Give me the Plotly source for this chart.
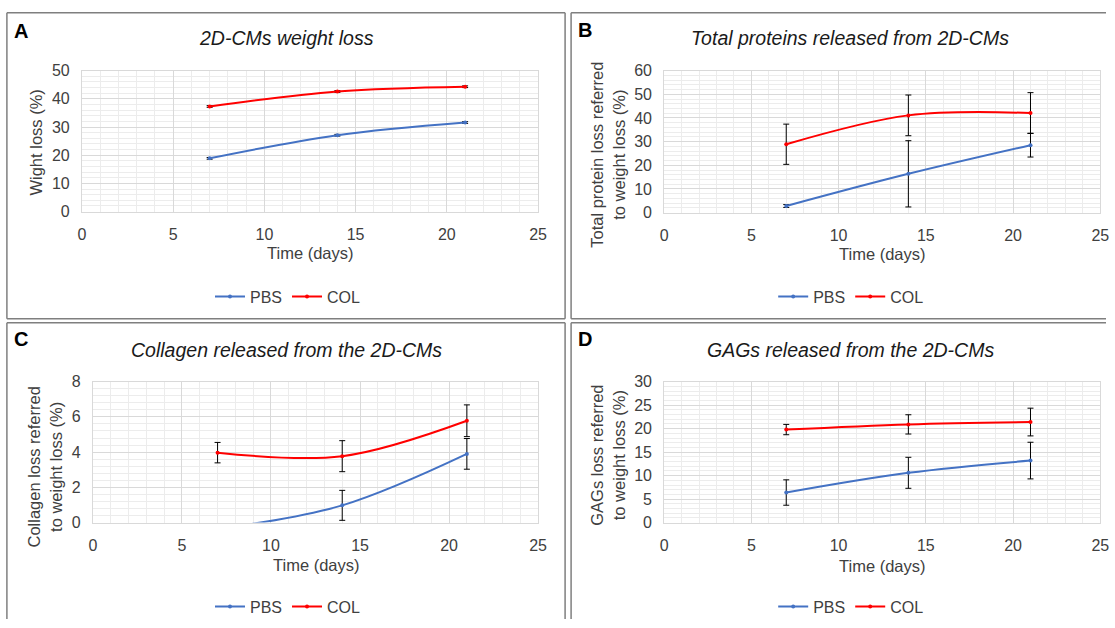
import plotly.graph_objects as go

W, H = 1115, 628

days = [7, 14, 21]

# A - weight loss
pbs_weight = [18.9, 27.1, 31.6]
pbs_weight_err = [0.3, 0.3, 0.3]
col_weight = [37.3, 42.6, 44.3]
col_weight_err = [0.3, 0.3, 0.3]

# B - total proteins
pbs_prot = [2.8, 16.4, 28.5]
pbs_prot_err = [0.6, 14.0, 5.0]
col_prot = [28.9, 41.1, 42.1]
col_prot_err = [8.5, 8.6, 8.6]

# C - collagen (PBS day 7 sits just below the axis and is clipped)
pbs_coll = [-0.36, 0.98, 3.9]
pbs_coll_err = [0.25, 0.85, 0.87]
col_coll = [3.97, 3.77, 5.78]
col_coll_err = [0.58, 0.88, 0.9]

# D - GAGs
pbs_gag = [6.4, 10.6, 13.2]
pbs_gag_err = [2.7, 3.3, 3.9]
col_gag = [19.8, 20.9, 21.4]
col_gag_err = [1.1, 2.05, 2.95]

BLUE = "#4472C4"
RED = "#FF0000"
FONT = "Liberation Sans, Arial, sans-serif"
TXT = "#404040"


# the page shows the figure slightly inset, so screen pixels are mapped back to paper
def px(x):
    return min(max(((x - 4.1) / 0.988) / W, 0), 1)


def py(y):
    return min(max(1 - ((y - 8.35) / 0.973) / H, 0), 1)


# positions in screen pixels of the 1115x628 picture
panels = [
    dict(letter="A", title="2D-CMs weight loss", ytitle="Wight loss (%)",
         pbs=pbs_weight, pbs_err=pbs_weight_err, col=col_weight, col_err=col_weight_err,
         yr=[0, 50], dt=10, box=(82, 538, 71, 212), tpos=(287, 38), lpos=(21, 31),
         ypos=(36, 143), xpos=(310, 253), legpos=(288, 297)),
    dict(letter="B", title="Total proteins released from 2D-CMs",
         ytitle="Total protein loss referred<br>to weight loss (%)",
         pbs=pbs_prot, pbs_err=pbs_prot_err, col=col_prot, col_err=col_prot_err,
         yr=[0, 60], dt=10, box=(664, 1100, 71, 213), tpos=(850, 38), lpos=(585, 30),
         ypos=(608, 155), xpos=(882, 254), legpos=(851, 297)),
    dict(letter="C", title="Collagen released from the 2D-CMs",
         ytitle="Collagen loss referred<br>to weight loss (%)",
         pbs=pbs_coll, pbs_err=pbs_coll_err, col=col_coll, col_err=col_coll_err,
         yr=[0, 8], dt=2, box=(93, 538, 382, 523), tpos=(287, 350), lpos=(21, 339),
         ypos=(45, 467), xpos=(316, 565), legpos=(288, 607)),
    dict(letter="D", title="GAGs released from the 2D-CMs",
         ytitle="GAGs loss referred<br>to weight loss (%)",
         pbs=pbs_gag, pbs_err=pbs_gag_err, col=col_gag, col_err=col_gag_err,
         yr=[0, 30], dt=5, box=(664, 1100, 382, 523), tpos=(850, 350), lpos=(585, 339),
         ypos=(608, 456), xpos=(882, 566), legpos=(851, 607)),
]

fig = go.Figure()
layout = {}
annotations = []
shapes = []

# panel frames (B/D run off the right edge, C/D off the bottom)
frame_lines = [
    (7, 13, 565, 13), (7, 13, 7, 319), (565, 13, 565, 319), (7, 319, 565, 319),      # A
    (571, 13, 1130, 13), (571, 13, 571, 319), (571, 319, 1130, 319),                 # B
    (7, 323, 565, 323), (7, 323, 7, 640), (565, 323, 565, 640),                      # C
    (571, 323, 1130, 323), (571, 323, 571, 640),                                     # D
]
for x0, y0, x1, y1 in frame_lines:
    shapes.append(dict(type="line", xref="paper", yref="paper",
                       x0=px(x0), x1=px(x1), y0=py(y0), y1=py(y1),
                       line=dict(color="#7F7F7F", width=1.5)))

for i, p in enumerate(panels):
    n = "" if i == 0 else str(i + 1)
    xa, ya = "x" + n, "y" + n
    leg = "legend" + n
    for name, vals, errs, color in [("PBS", p["pbs"], p["pbs_err"], BLUE),
                                    ("COL", p["col"], p["col_err"], RED)]:
        fig.add_trace(go.Scatter(
            x=days, y=vals, name=name, mode="lines+markers",
            line=dict(color=color, width=2, shape="spline", smoothing=1),
            marker=dict(color=color, size=4),
            error_y=dict(type="data", array=errs, visible=True,
                         color="black", thickness=1, width=3),
            xaxis=xa, yaxis=ya, legend=leg, showlegend=True,
        ))
    x0, x1, y0, y1 = p["box"]
    layout["xaxis" + n] = dict(
        domain=[px(x0), px(x1)], anchor=ya, range=[0, 25], dtick=5, tick0=0,
        showgrid=True, gridcolor="#D9D9D9", gridwidth=1,
        minor=dict(dtick=1, tick0=0, showgrid=True, gridcolor="#ECECEC", gridwidth=1),
        showline=True, linecolor="#D9D9D9", mirror=True, zeroline=False,
        ticks="", ticklabelstandoff=8, fixedrange=True,
        tickfont=dict(family=FONT, size=16, color=TXT),
    )
    layout["yaxis" + n] = dict(
        domain=[py(y1), py(y0)], anchor=xa, range=p["yr"], dtick=p["dt"], tick0=0,
        showgrid=True, gridcolor="#D9D9D9", gridwidth=1,
        minor=dict(dtick=p["dt"] / 5, tick0=0, showgrid=True, gridcolor="#ECECEC", gridwidth=1),
        showline=True, linecolor="#D9D9D9", mirror=True, zeroline=False,
        ticks="", ticklabelstandoff=8, fixedrange=True,
        tickfont=dict(family=FONT, size=16, color=TXT),
    )
    lx, ly = p["legpos"]
    layout[leg] = dict(
        orientation="h", x=px(lx), y=py(ly), xanchor="center", yanchor="middle",
        font=dict(family=FONT, size=16, color=TXT), itemwidth=30,
        bgcolor="rgba(0,0,0,0)", tracegroupgap=0,
    )
    tx, ty = p["tpos"]
    annotations.append(dict(text="<i>" + p["title"] + "</i>", x=px(tx), y=py(ty),
                            xref="paper", yref="paper", showarrow=False,
                            xanchor="center", yanchor="middle",
                            font=dict(family=FONT, size=19.5, color="#1a1a1a")))
    ax_, ay_ = p["lpos"]
    annotations.append(dict(text="<b>" + p["letter"] + "</b>", x=px(ax_), y=py(ay_),
                            xref="paper", yref="paper", showarrow=False,
                            xanchor="center", yanchor="middle",
                            font=dict(family=FONT, size=20, color="black")))
    yx, yy = p["ypos"]
    annotations.append(dict(text=p["ytitle"], x=px(yx), y=py(yy),
                            xref="paper", yref="paper", showarrow=False, textangle=-90,
                            xanchor="center", yanchor="middle",
                            font=dict(family=FONT, size=16.5, color=TXT)))
    xx, xy = p["xpos"]
    annotations.append(dict(text="Time (days)", x=px(xx), y=py(xy),
                            xref="paper", yref="paper", showarrow=False,
                            xanchor="center", yanchor="middle",
                            font=dict(family=FONT, size=16.5, color=TXT)))

fig.update_layout(
    width=W, height=H, margin=dict(l=0, r=0, t=0, b=0),
    paper_bgcolor="white", plot_bgcolor="white",
    annotations=annotations, shapes=shapes,
    **layout,
)

page_css = ("document.documentElement.style.margin='0';"
            "document.documentElement.style.overflow='hidden';"
            "document.body.style.margin='0';"
            "document.body.style.overflow='hidden';")
fig.write_html("out.html", config={"displayModeBar": False}, post_script=page_css)
